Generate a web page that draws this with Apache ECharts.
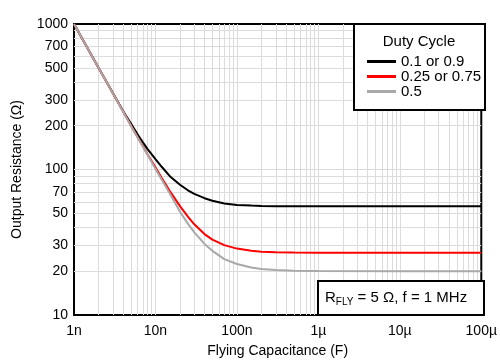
<!DOCTYPE html>
<html><head><meta charset="utf-8">
<script src="https://cdn.jsdelivr.net/npm/echarts@6/dist/echarts.min.js"></script>
<style>html,body{margin:0;padding:0;background:#fff}#c{width:500px;height:363px}</style>
</head><body><div id="c"></div>
<script>
// Flying capacitance (F)
const capacitance = [1e-9, 2e-9, 3e-9, 4e-9, 5e-9, 6e-9, 7e-9, 8e-9, 1e-8, 1.2e-8, 1.5e-8, 2e-8, 2.5e-8, 3e-8, 4e-8, 5e-8, 7e-8, 1e-7, 1.5e-7, 2e-7, 3e-7, 5e-7, 1e-6, 1e-5, 1e-4];
// Output resistance (Ohm) per duty cycle
const rDuty01 = [1000, 501, 335, 252, 207, 175, 154, 138, 118, 104, 90, 78.5, 72, 68, 63.5, 61, 58.3, 57, 56.5, 56.2, 56, 56, 56, 56, 56];
const rDuty025 = [1000, 500, 334, 251, 201, 168, 145, 127, 103.5, 87, 71, 56, 47.5, 42, 36, 33, 30.2, 28.6, 27.6, 27.2, 27, 26.9, 26.8, 26.8, 26.8];
const rDuty05 = [1000, 500, 334, 250, 200, 167.5, 144, 126.5, 101, 84.8, 68.4, 51.2, 42.5, 37, 30.8, 27.6, 24.2, 22.4, 21.2, 20.7, 20.4, 20.15, 20.05, 20, 20];
const seriesNames = ['0.1 or 0.9', '0.25 or 0.75', '0.5'];
const seriesColors = ['#000000', '#ff0000', '#a8a8a8'];
// Axis ticks
const xTickValues = [1e-9, 1e-8, 1e-7, 1e-6, 1e-5, 1e-4];
const xTickLabels = ['1n', '10n', '100n', '1µ', '10µ', '100µ'];
const yTickValues = [10, 20, 30, 50, 70, 100, 200, 300, 500, 700, 1000];

const FONT = 'Liberation Sans, Arial, sans-serif';
const xGrid = [];
for (let e = -9; e < -4; e++) for (let m = 1; m <= 9; m++) { if (!(m === 1 && e === -9)) xGrid.push(m * Math.pow(10, e)); }
const yGrid = [];
for (let e = 1; e < 3; e++) for (let m = 1; m <= 9; m++) { if (!(m === 1 && e === 1)) yGrid.push(m * Math.pow(10, e)); }

function pairs(ys) { return capacitance.map((c, i) => [c, ys[i]]); }
const allR = [rDuty01, rDuty025, rDuty05];

const chart = echarts.init(document.getElementById('c'), null, {renderer: 'canvas'});
chart.setOption({
  animation: false,
  backgroundColor: '#fff',
  textStyle: {fontFamily: FONT},
  grid: {left: 74, right: 16, top: 24, bottom: 48, show: true, borderColor: '#000', borderWidth: 2, backgroundColor: 'transparent'},
  xAxis: {
    type: 'log', logBase: 10, min: 1e-9, max: 1e-4,
    axisLine: {show: false},
    axisTick: {show: false, customValues: xGrid},
    axisLabel: {customValues: xTickValues, fontSize: 14, color: '#000', fontFamily: FONT, margin: 9,
      showMinLabel: true, showMaxLabel: true,
      formatter: v => xTickLabels[Math.round(Math.log10(v) + 9)]},
    splitLine: {show: true, lineStyle: {color: '#dcdcdc', width: 1}},
    name: 'Flying Capacitance (F)', nameLocation: 'middle', nameGap: 29,
    nameTextStyle: {fontSize: 14, color: '#000', fontFamily: FONT}
  },
  yAxis: {
    type: 'log', logBase: 10, min: 10, max: 1000,
    axisLine: {show: false},
    axisTick: {show: false, customValues: yGrid},
    axisLabel: {customValues: yTickValues, fontSize: 14, color: '#000', fontFamily: FONT, margin: 6,
      showMinLabel: true, showMaxLabel: true,
      formatter: v => String(Math.round(v))},
    splitLine: {show: true, lineStyle: {color: '#dcdcdc', width: 1}},
    name: 'Output Resistance (Ω)', nameLocation: 'middle', nameGap: 50,
    nameTextStyle: {fontSize: 14, color: '#000', fontFamily: FONT}
  },
  legend: {
    orient: 'vertical', left: 362, top: 49, z: 200,
    itemWidth: 29, itemHeight: 3, itemGap: 0, icon: 'rect',
    textStyle: {fontSize: 15, color: '#000', fontFamily: FONT},
    data: seriesNames
  },
  series: seriesNames.map((n, i) => ({
    name: n, type: 'line', data: pairs(allR[i]), symbol: 'none', showSymbol: false,
    smooth: false,
    lineStyle: {color: seriesColors[i], width: 2}, itemStyle: {color: seriesColors[i]}, z: 3 + i
  })),
  graphic: [
    {type: 'rect', shape: {x: 354, y: 24, width: 131, height: 86}, style: {fill: '#fff', stroke: '#000', lineWidth: 2}, z: 100},
    {type: 'text', x: 419, y: 42, z: 101, style: {text: 'Duty Cycle', fontSize: 15, fontFamily: FONT, fill: '#000', align: 'center', verticalAlign: 'middle'}},
    {type: 'rect', shape: {x: 318, y: 281, width: 166, height: 34}, style: {fill: '#fff', stroke: '#000', lineWidth: 2}, z: 100},
    {type: 'text', x: 325, y: 298, z: 101, style: {
      text: '{a|R}{b|FLY}{a| = 5 Ω, f = 1 MHz}', verticalAlign: 'middle', fill: '#000',
      rich: {
        a: {fontSize: 15, fontFamily: FONT, lineHeight: 18, fill: '#000'},
        b: {fontSize: 10, fontFamily: FONT, lineHeight: 18, verticalAlign: 'bottom', fill: '#000'}
      }
    }}
  ]
});
</script></body></html>
